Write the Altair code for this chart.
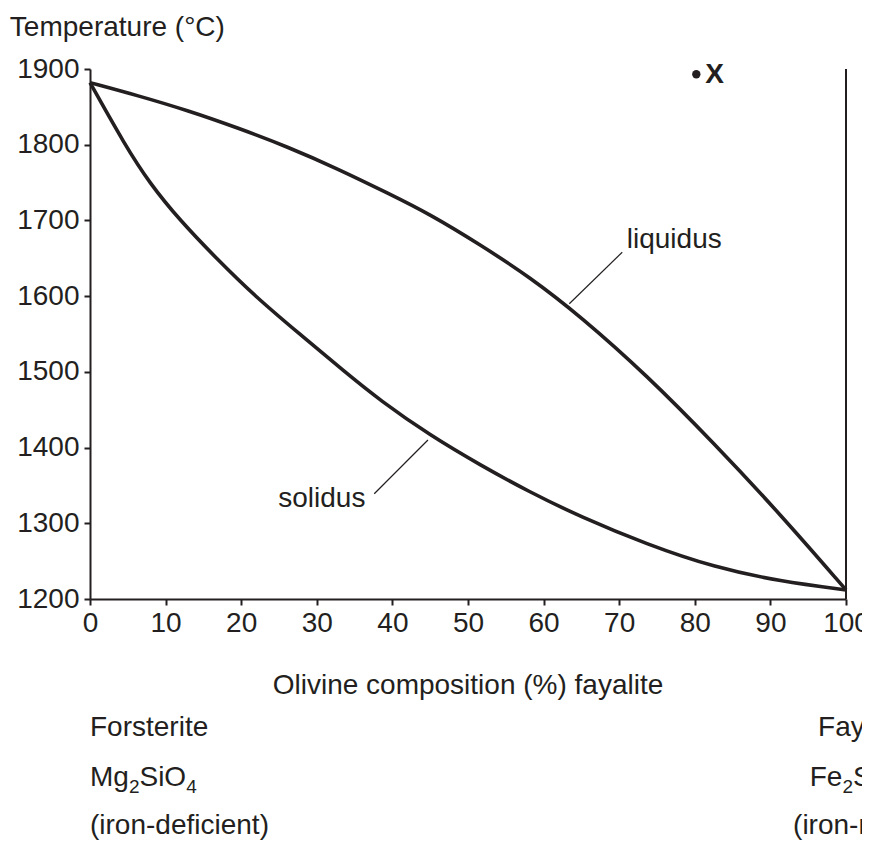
import altair as alt
import pandas as pd

INK = "#231f20"
FONT = "Liberation Sans"
FS = 28
SUB = 19

# ---- data ----
liquidus_x = [0, 6.3, 13, 19.6, 26.2, 32.8, 39.4, 45, 51.6, 58.2, 64.8, 73.7, 82.5, 91.4, 100]
liquidus_t = [1882, 1865, 1845, 1822, 1797, 1768, 1736, 1708, 1668, 1625, 1574, 1495, 1406, 1311, 1212]
solidus_x = [0, 4.6, 7.9, 11.9, 16.7, 21.8, 27.6, 33.7, 38.4, 45, 51.6, 58.2, 64.8, 73.7, 82.5, 91.4, 100]
solidus_t = [1882, 1800, 1749, 1700, 1650, 1600, 1551, 1500, 1462, 1416, 1377, 1341, 1309, 1272, 1242, 1223, 1212]

x_ticks = list(range(0, 101, 10))
y_ticks = list(range(1200, 1901, 100))

# boundary at pure fayalite
edge_x = [100]
edge_t = [1200]
edge_t2 = [1900]

# point X
point_x = [80.2]
point_t = [1893]

# leader lines for the curve labels
leader_x = [63.4, 37.6]
leader_t = [1590, 1339]
leader_x2 = [70.4, 44.7]
leader_t2 = [1658, 1410]

# curve labels
label_text = ["liquidus", "solidus"]
label_x = [71.0, 24.9]
label_t = [1664, 1321]

# outside texts (data coordinates, beyond the axes)
title_text = ["Temperature (°C)"]
title_x = [-10.6]
title_t = [1944]

xlabel_text = ["Olivine composition (%) fayalite"]
xlabel_x = [50]
xlabel_t = [1075]

end_text = ["Forsterite", "(iron-deficient)", "Fayalite", "(iron-rich)"]
end_x = [0, 0, 96.3, 93.0]
end_t = [1019, 890, 1019, 890]

formula_parts = [["Mg", "2", "SiO", "4"], ["Fe", "2", "SiO", "4"]]
formula_x = [0, 95.2]
formula_t = [953, 953]

xs = alt.Scale(domain=[0, 100], nice=False, zero=False)
ys = alt.Scale(domain=[1200, 1900], nice=False, zero=False)

x_axis = alt.Axis(values=x_ticks, format="d", title=None, grid=False,
                  labelFontSize=FS, labelFont=FONT, labelColor=INK,
                  tickColor=INK, tickSize=6, tickWidth=2,
                  domainColor=INK, domainWidth=2, labelPadding=4,
                  labelFlush=False, labelOverlap=False)
y_axis = alt.Axis(values=y_ticks, format="d", title=None, grid=False,
                  labelFontSize=FS, labelFont=FONT, labelColor=INK,
                  tickColor=INK, tickSize=6, tickWidth=2,
                  domainColor=INK, domainWidth=2, labelPadding=5,
                  labelFlush=False, labelOverlap=False)


def X(field):
    return alt.X(field, scale=xs, axis=x_axis)


def Y(field):
    return alt.Y(field, scale=ys, axis=y_axis)


curves = pd.DataFrame({
    "x": liquidus_x + solidus_x,
    "t": liquidus_t + solidus_t,
    "curve": ["liquidus"] * len(liquidus_x) + ["solidus"] * len(solidus_x),
})

lines = alt.Chart(curves).mark_line(color=INK, strokeWidth=3.6, interpolate="basis").encode(
    x=X("x:Q"), y=Y("t:Q"), detail="curve:N",
)

edge = alt.Chart(pd.DataFrame({"x": edge_x, "t": edge_t, "t2": edge_t2})).mark_rule(
    color=INK, strokeWidth=2).encode(x=X("x:Q"), y=Y("t:Q"), y2="t2:Q")

leaders = alt.Chart(pd.DataFrame({"x": leader_x, "t": leader_t, "x2": leader_x2, "t2": leader_t2})).mark_rule(
    color=INK, strokeWidth=1.2).encode(x=X("x:Q"), y=Y("t:Q"), x2="x2:Q", y2="t2:Q")

dot = alt.Chart(pd.DataFrame({"x": point_x, "t": point_t})).mark_point(
    filled=True, color=INK, size=70, opacity=1, shape="circle").encode(x=X("x:Q"), y=Y("t:Q"))

dot_label = alt.Chart(pd.DataFrame({"x": point_x, "t": point_t, "s": ["X"]})).mark_text(
    font=FONT, fontSize=FS, fontWeight="bold", color=INK, align="left", baseline="middle", dx=9, dy=1
).encode(x=X("x:Q"), y=Y("t:Q"), text="s:N")


def text_layer(xv, tv, sv, align="left", size=FS, dx=0, dy=0):
    df = pd.DataFrame({"x": xv, "t": tv, "s": sv})
    return alt.Chart(df).mark_text(
        font=FONT, fontSize=size, color=INK, align=align, baseline="alphabetic", dx=dx, dy=dy
    ).encode(x=X("x:Q"), y=Y("t:Q"), text="s:N")


layers = [lines, edge, leaders, dot, dot_label,
          text_layer(label_x, label_t, label_text),
          text_layer(title_x, title_t, title_text),
          text_layer(xlabel_x, xlabel_t, xlabel_text, align="center"),
          text_layer(end_x, end_t, end_text)]

# chemical formulas with subscripts: part offsets from approximate glyph widths
W = {"M": 0.833, "g": 0.556, "F": 0.611, "e": 0.556, "S": 0.667, "i": 0.222, "O": 0.778,
     "2": 0.556, "4": 0.556}
for parts, fx, ft in zip(formula_parts, formula_x, formula_t):
    off = 0.0
    for k, p in enumerate(parts):
        sub = (k % 2 == 1)
        size = SUB if sub else FS
        layers.append(text_layer([fx], [ft], [p], size=size, dx=off, dy=7 if sub else 0))
        off += sum(W.get(ch, 0.556) for ch in p) * size

chart = alt.layer(*layers).properties(
    width=756, height=530,
    padding={"left": 82, "top": 61, "right": 16, "bottom": 259},
    autosize=alt.AutoSizeParams(type="none"),
    background="white",
).configure_view(stroke=None)

chart.save("out.html", embed_options={"renderer": "svg", "actions": False})
